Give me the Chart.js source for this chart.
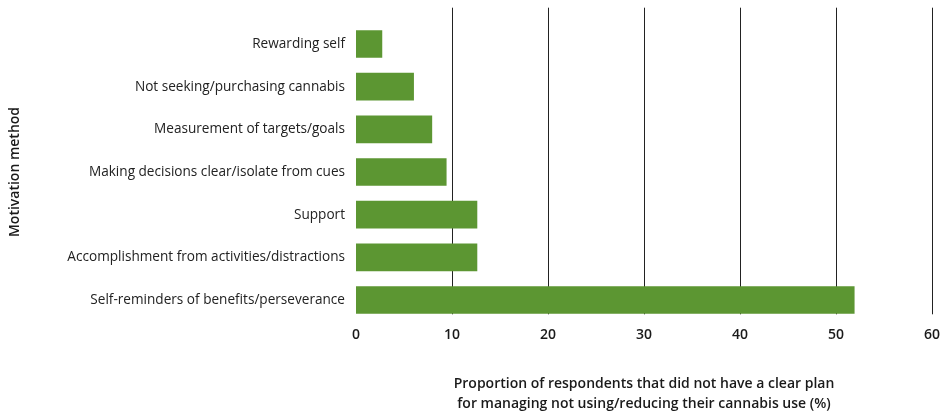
<!DOCTYPE html>
<html>
<head>
<meta charset="utf-8">
<script src="https://cdn.jsdelivr.net/npm/chart.js@4/dist/chart.umd.min.js"></script>
<style>
  html, body { margin: 0; padding: 0; background: #fff; }
  #wrap { width: 942px; height: 414px; }
</style>
</head>
<body>
<div id="wrap"><canvas id="chart" width="942" height="414"></canvas></div>
<script>
// motivation methods, top to bottom
const methods = [
  'Rewarding self',
  'Not seeking/purchasing cannabis',
  'Measurement of targets/goals',
  'Making decisions clear/isolate from cues',
  'Support',
  'Accomplishment from activities/distractions',
  'Self-reminders of benefits/perseverance'
];
// % of respondents
const shares = [2.7, 6.0, 7.9, 9.4, 12.6, 12.6, 51.9];
const xTicks = [0, 10, 20, 30, 40, 50, 60];

const FONT = '"Open Sans", sans-serif';

// vertical gridlines drawn behind bars, a bit above the plot area like the original
const gridLines = {
  id: 'gridLines',
  beforeDatasetsDraw(chart) {
    const { ctx, chartArea, scales } = chart;
    ctx.save();
    ctx.strokeStyle = '#222';
    ctx.lineWidth = 1;
    xTicks.forEach(v => {
      if (v === 0) return;
      const x = Math.round(scales.x.getPixelForValue(v)) + 0.5;
      ctx.beginPath();
      ctx.moveTo(x, chartArea.top - 15);
      ctx.lineTo(x, chartArea.bottom - 7);
      ctx.stroke();
    });
    ctx.restore();
  }
};

new Chart(document.getElementById('chart'), {
  type: 'bar',
  data: {
    labels: methods,
    datasets: [{
      data: shares,
      backgroundColor: '#5c9632',
      borderWidth: 0,
      barThickness: 27
    }]
  },
  plugins: [gridLines],
  options: {
    indexAxis: 'y',
    responsive: false,
    animation: false,
    layout: { padding: { left: 0, right: 10, top: 22.7, bottom: 0 } },
    plugins: { legend: { display: false }, tooltip: { enabled: false } },
    scales: {
      x: {
        min: 0, max: 60,
        afterBuildTicks: s => { s.ticks = xTicks.map(v => ({ value: v })); },
        afterFit: s => { s.height = 92.7; s.paddingLeft = 0; s.paddingRight = 0; },
        grid: { display: false, drawTicks: false },
        border: { display: false },
        ticks: { padding: 5, color: '#1a1a1a', font: { family: FONT, size: 14, weight: '600' } },
        title: {
          display: true,
          text: ['Proportion of respondents that did not have a clear plan',
                 'for managing not using/reducing their cannabis use (%)'],
          color: '#1a1a1a',
          padding: { top: 0, bottom: 0 },
          font: { family: FONT, size: 14, weight: '600', lineHeight: 1.43 }
        }
      },
      y: {
        afterFit: s => { s.width = 356; },
        grid: { display: false, drawTicks: false },
        border: { display: false },
        ticks: { padding: 11, color: '#222', font: { family: FONT, size: 13.6 } },
        title: {
          display: true,
          text: 'Motivation method',
          color: '#1a1a1a',
          padding: { top: 7, bottom: 0 },
          font: { family: FONT, size: 14, weight: '600', lineHeight: 1.2 }
        }
      }
    }
  }
});
</script>
</body>
</html>
